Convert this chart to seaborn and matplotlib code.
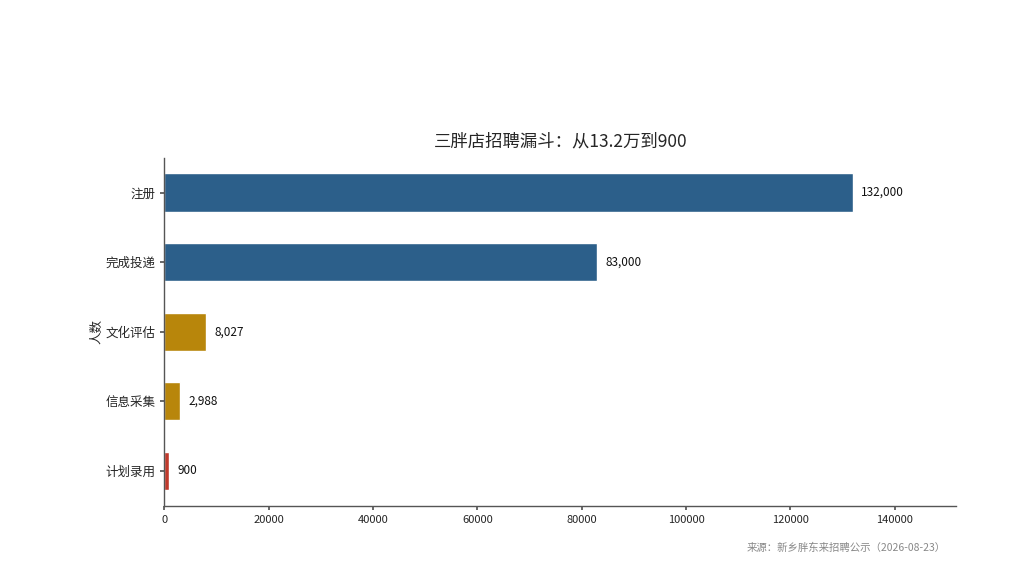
import matplotlib
matplotlib.use("Agg")
import matplotlib.pyplot as plt
import seaborn as sns
import pandas as pd

stages = ["注册", "完成投递", "文化评估", "信息采集", "计划录用"]
counts = [132000, 83000, 8027, 2988, 900]
colors = ["#2c5f8a", "#2c5f8a", "#b8860b", "#b8860b", "#c0392b"]
title = "三胖店招聘漏斗：从13.2万到900"
source = "来源：新乡胖东来招聘公示（2026-08-23）"

sns.set_theme(style="white")
plt.rcParams['font.family'] = ['Noto Sans CJK SC', 'DejaVu Sans']
plt.rcParams['axes.unicode_minus'] = False

df = pd.DataFrame({"stage": stages, "count": counts})

fig = plt.figure(figsize=(10.14, 5.82), dpi=100)
ax = fig.add_axes([0.162, 0.131, 0.781, 0.598])
sns.barplot(data=df, y="stage", x="count", hue="stage", palette=colors,
            legend=False, width=0.55, ax=ax, saturation=1)

for i, v in enumerate(counts):
    ax.annotate(f"{v:,}", xy=(v, i), xytext=(6, 0), textcoords="offset points",
                va="center", ha="left", fontsize=8.5, color="#111111")

ax.set_xlim(0, max(counts) * 1.15)
ax.set_xlabel("")
ax.set_ylabel("人数", fontsize=9, labelpad=1)
ax.set_title(title, fontsize=12.5, pad=8)
ax.tick_params(axis="y", labelsize=9, left=True, length=3, color="#555555")
ax.tick_params(axis="x", labelsize=8, bottom=True, length=3, color="#555555")
for s in ["top", "right"]:
    ax.spines[s].set_visible(False)
for s in ["left", "bottom"]:
    ax.spines[s].set_color("#555555")
    ax.spines[s].set_linewidth(1.0)

fig.text(0.933, 0.058, source, ha="right", va="center", fontsize=7.5, color="#888888")

fig.savefig("out.png", dpi=100)
